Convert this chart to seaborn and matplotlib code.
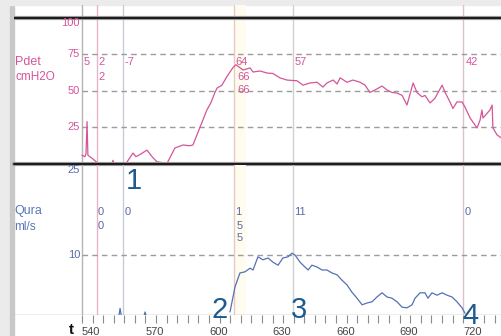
import matplotlib
matplotlib.use('Agg')
import matplotlib.pyplot as plt
from matplotlib.patches import Rectangle
import matplotlib.transforms as mtransforms
import numpy as np
import pandas as pd
import seaborn as sns

sns.set_style('white')
plt.rcParams['font.family'] = ['Liberation Sans', 'DejaVu Sans']

# ---------------- data ----------------
pdet_t = [540.0, 541.4, 541.9, 542.4, 542.8, 544.7, 547.1, 554.2, 554.6, 555.1, 560.8, 562.5,
          564.1, 565.5, 567.4, 570.7, 573.1, 575.4, 580.2, 583.9, 587.7, 591.0, 592.4, 595.7,
          599.0, 600.9, 602.8, 603.8, 606.1, 608.5, 611.3, 612.7,
          616.1, 619.4, 620.8, 624.1, 627.4, 630.2, 633.5, 636.8, 641.6, 644.4, 647.7, 651.0,
          653.8, 655.7, 658.6, 660.5, 661.9, 665.2, 668.0, 671.3,
          673.7, 676.0, 678.4, 681.7, 684.1, 686.4, 688.8, 691.2, 693.5, 696.4, 698.2, 700.6,
          702.0, 704.4, 706.7, 710.1, 711.5, 713.8, 715.2, 717.1, 719.5, 720.9, 723.3, 726.6,
          728.0, 728.9, 729.4, 732.7, 733.7, 734.1, 736.0, 737.4, 738.0]
pdet_v = [6, 5, 7, 29, 6, 4, 1, 0.5, 2.5, 0.5, 0.5, 4,
          7.5, 5, 6.5, 9.5, 5, 1.5, 0.5, 11, 13, 12.5, 13, 25,
          37, 42, 49, 52, 54, 60, 66, 68,
          64.4, 65.8, 63, 63.7, 62.3, 62, 59, 57.5, 57, 54, 55.5, 56,
          52.7, 55.5, 57.5, 54.8, 59, 56, 57.5, 56,
          54, 49, 50.7, 53.4, 50.7, 49, 48.6, 47, 40.4, 55.5, 49, 46,
          47, 41.8, 45, 54, 49, 42.5, 38, 42.5, 42.5, 39, 31.5, 24.7,
          30, 37, 31.5, 37, 40.4, 24.7, 20, 18.5, 18]

qura_t = [557.5, 558.0, 558.5, 569.4, 569.8, 570.2,
          609.9, 612.3, 614.6, 617.0, 619.4, 620.8, 623.1, 625.5, 627.9, 630.2, 632.6, 634.9,
          637.3, 639.2, 640.6, 643.0, 645.3, 646.8, 648.6, 651.0, 653.4, 655.7, 658.1, 660.5,
          662.8, 665.2, 667.5, 669.9, 672.3, 674.6, 677.0, 679.3, 681.7, 684.1, 686.4, 688.8,
          691.2, 693.5, 695.9, 697.3, 699.7, 702.0, 703.4, 705.3, 707.7, 710.1, 712.4, 714.8,
          717.1, 719.5, 720.9]
qura_v = [0, 1.1, 0, 0, 0.5, 0,
          0.5, 4.7, 7, 7.2, 7.8, 7.5, 9.7, 9.2, 9.5, 8.8, 8.3, 9.5,
          9.7, 10.3, 10, 8.8, 8, 7.5, 8.3, 8, 7.5, 7.5, 7, 6.7,
          5.8, 5, 3.8, 2.8, 1.7, 2, 2.2, 3, 3.7, 3, 2.8, 2.2,
          1.3, 1.2, 1.7, 2.8, 3.7, 3.7, 2.8, 3.7, 3.3, 3.7, 3.3, 3,
          2.2, 1.2, 0.3]
qura_seg = [1, 1, 1, 2, 2, 2] + [3] * 51

event_t = [540, 547, 559.4, 612, 639.7, 720]
event_colors = ['#b4b4b4', '#ebb3cb', '#c6ccda', '#e8c9bd', '#d0d0d0', '#dcc0cc']

pdet_ticks = [100, 75, 50, 25]
qura_ticks = [25, 10]

pdet_ann_t = [540, 547, 547, 559.4, 612, 612.6, 612.6, 639.7, 720.6]
pdet_ann_v = [69.9, 69.9, 59.6, 69.9, 69.9, 59.6, 50.7, 69.9, 69.9]
pdet_ann_txt = ['5', '2', '2', '-7', '64', '66', '66', '57', '42']

qura_ann_t = [547, 547, 559.4, 611.5, 612.6, 612.6, 639.7, 720]
qura_ann_v = [17.2, 14.9, 17.2, 17.2, 14.9, 12.8, 17.2, 17.2]
qura_ann_txt = ['0', '0', '0', '1', '5', '5', '11', '0']

big_txt = ['1', '2', '3', '4']
big_t = [564.3, 605.2, 642.5, 723.7]
big_q = [22.4, 0.8, 0.8, -0.1]

time_major = [540, 570, 600, 630, 660, 690, 720]
time_minor = list(range(540, 740, 5))

XMIN, XMAX = 507.9, 737.9
PINK = '#d4559b'
BLUE = '#5470b6'
DARK = '#1d5a8e'

# ---------------- figure ----------------
W, H = 501, 336
fig = plt.figure(figsize=(W / 100, H / 100), dpi=100)
fig.patch.set_facecolor('white')
fig.add_artist(Rectangle((0, 0), 10 / W, 1, transform=fig.transFigure, color='#ebebeb', zorder=0))
fig.add_artist(Rectangle((10 / W, 0), 4 / W, 1, transform=fig.transFigure, color='#c8c8c8', zorder=0))
fig.add_artist(Rectangle((0, 1 - 5 / H), 1, 5 / H, transform=fig.transFigure, color='#ebebeb', zorder=0))

ax1 = fig.add_axes([14 / W, 1 - 164 / H, 487 / W, 159 / H])
ax2 = fig.add_axes([14 / W, 1 - 315 / H, 487 / W, 150 / H])
for ax in (ax1, ax2):
    ax.set_facecolor('none')
    for s in ax.spines.values():
        s.set_visible(False)
    ax.set_xlim(XMIN, XMAX)

ax1.set_ylim(0, 108.9)
ax2.set_ylim(0, 25)

# faint yellow band next to the 612 s marker
for ax in (ax1, ax2):
    ax.axvspan(612.3, 617.5, color='#fefcef', zorder=0.5, lw=0)
    for t, c in zip(event_t, event_colors):
        ax.axvline(t, color=c, lw=1.0, zorder=1)

# grid lines
ax1.hlines([25, 50, 75], 540, XMAX, colors='#9c9c9c', linestyles=(0, (4, 3)), lw=1.0, zorder=1.5)
ax2.hlines([10], 540, XMAX, colors='#9c9c9c', linestyles=(0, (4, 3)), lw=1.0, zorder=1.5)
ax2.hlines([0], XMIN, XMAX, colors='#a8a8a8', lw=1.0, zorder=1.5)

# traces
pdet_df = pd.DataFrame({'t': pdet_t, 'v': pdet_v})
sns.lineplot(data=pdet_df, x='t', y='v', ax=ax1, color=PINK, lw=0.9, zorder=3, estimator=None, sort=False)
qura_df = pd.DataFrame({'t': qura_t, 'v': qura_v, 'seg': qura_seg})
sns.lineplot(data=qura_df, x='t', y='v', units='seg', estimator=None, ax=ax2, color=BLUE, lw=0.9,
             zorder=3, sort=False)

# thick black lines
for ax, yv, clip in ((ax1, 100, True), (ax1, 0, False)):
    ax.axhline(yv, color='#9a9a9a', lw=3.0, zorder=4, clip_on=clip)
    ax.axhline(yv, color='#1a1a1a', lw=1.4, zorder=5, clip_on=clip)

# y labels
lab_x = (80 - 14) / 487
tr1 = mtransforms.blended_transform_factory(ax1.transAxes, ax1.transData)
tr2 = mtransforms.blended_transform_factory(ax2.transAxes, ax2.transData)
for v in pdet_ticks:
    ax1.text(lab_x, v, str(v), transform=tr1, ha='right',
             va='top' if v == 100 else 'center', color=PINK, fontsize=8, zorder=6)
for v in qura_ticks:
    ax2.text(lab_x, v, str(v), transform=tr2, ha='right',
             va='top' if v == 25 else 'center', color='#5a6aa8', fontsize=8, zorder=6)

fig.text(15 / W, 1 - 62 / H, 'Pdet', color=PINK, fontsize=9, ha='left', va='center')
fig.text(15 / W, 1 - 77 / H, 'cmH2O', color=PINK, fontsize=8.5, ha='left', va='center')
fig.text(14 / W, 1 - 211 / H, 'Qura', color='#5a78b8', fontsize=9, ha='left', va='center')
fig.text(14 / W, 1 - 227 / H, 'ml/s', color='#5a78b8', fontsize=8.5, ha='left', va='center')

# value annotations
for t, v, s in zip(pdet_ann_t, pdet_ann_v, pdet_ann_txt):
    ax1.text(t + 0.6, v, s, color=PINK, fontsize=8, ha='left', va='center', zorder=6)
for t, v, s in zip(qura_ann_t, qura_ann_v, qura_ann_txt):
    ax2.text(t + 0.6, v, s, color='#5a6aa8', fontsize=8, ha='left', va='center', zorder=6)

# big markers
for s, t, q in zip(big_txt, big_t, big_q):
    ax2.text(t, q, s, color=DARK, fontsize=21, ha='center', va='center', zorder=8, clip_on=False)

# time axis
ax1.set_xticks([])
ax1.set_yticks([])
ax2.set_yticks([])
ax2.set_xticks(time_major)
ax2.set_xticklabels([str(v) for v in time_major])
ax2.set_xticks(time_minor, minor=True)
ax2.tick_params(axis='x', which='both', direction='out', length=5.5, width=0.8, color='#8c8c8c',
                labelsize=8, labelcolor='#444444', pad=3.0, bottom=True)
for lbl in ax2.get_xticklabels():
    lbl.set_ha('left')
for ax in (ax1, ax2):
    ax.set_xlabel('')
    ax.set_ylabel('')
fig.text(71 / W, 1 - 330 / H, 't', color='#111111', fontsize=11, fontweight='bold', ha='center', va='center')

fig.savefig('out.png', dpi=100, facecolor=fig.get_facecolor())
